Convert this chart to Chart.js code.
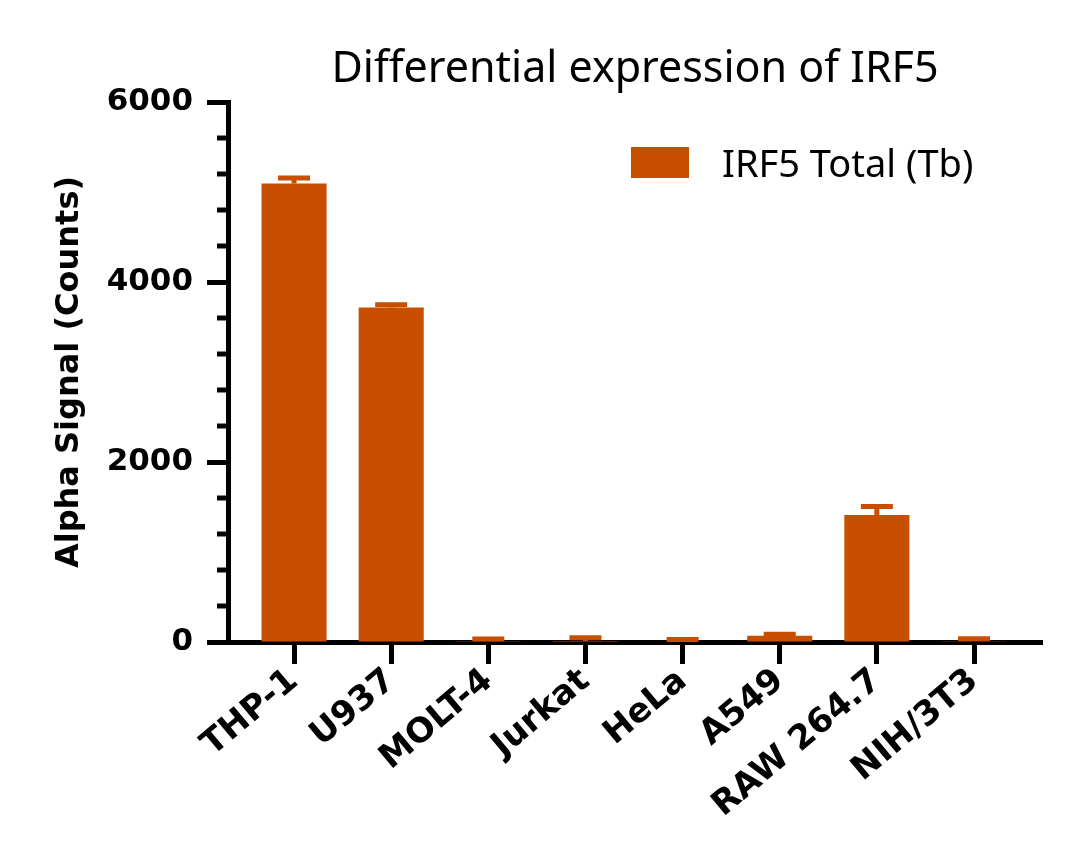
<!DOCTYPE html>
<html>
<head>
<meta charset="utf-8">
<title>Differential expression of IRF5</title>
<script src="https://cdn.jsdelivr.net/npm/chart.js@4/dist/chart.umd.min.js"></script>
<style>
	html, body { margin: 0; padding: 0; background: #fff; }
	#wrap { width: 1080px; height: 866px; position: relative; }
</style>
</head>
<body>
<div id="wrap"><canvas id="myChart"></canvas></div>
<script>
// data
var cellLines = ['THP-1', 'U937', 'MOLT-4', 'Jurkat', 'HeLa', 'A549', 'RAW 264.7', 'NIH/3T3'];
var irf5Total = [5095, 3718, 8, 10, 5, 70, 1410, 8];
var irf5Err = [60, 30, 25, 38, 23, 16, 95, 29];
var yTicks = [0, 2000, 4000, 6000];

var barColor = '#C84E00';
var boldFont = '"DejaVu Sans", sans-serif';
var textFont = '"Noto Sans", Roboto, sans-serif';

// title + legend drawn over the plot area, error bars and minor ticks
var extras = {
	id: 'extras',
	afterDatasetsDraw: function (chart) {
		var ctx = chart.ctx;
		var y = chart.scales.y;
		var meta = chart.getDatasetMeta(0);
		ctx.save();
		ctx.strokeStyle = barColor;
		ctx.lineWidth = 5;
		meta.data.forEach(function (bar, i) {
			var top = y.getPixelForValue(irf5Total[i] + irf5Err[i]);
			ctx.beginPath();
			ctx.moveTo(bar.x, bar.y);
			ctx.lineTo(bar.x, top);
			ctx.moveTo(bar.x - 16, top);
			ctx.lineTo(bar.x + 16, top);
			ctx.stroke();
		});
		ctx.restore();
	},
	afterDraw: function (chart) {
		var ctx = chart.ctx;
		var area = chart.chartArea;
		var y = chart.scales.y;
		ctx.save();
		// minor ticks on y
		ctx.strokeStyle = '#000';
		ctx.lineWidth = 5;
		y.ticks.forEach(function (t) {
			if (yTicks.indexOf(t.value) >= 0) return;
			var py = y.getPixelForValue(t.value);
			ctx.beginPath();
			ctx.moveTo(area.left - 11, py);
			ctx.lineTo(area.left, py);
			ctx.stroke();
		});
		// title
		ctx.fillStyle = '#000';
		ctx.font = '43px ' + textFont;
		ctx.textAlign = 'center';
		ctx.textBaseline = 'alphabetic';
		ctx.fillText('Differential expression of IRF5', (area.left + area.right) / 2, 82);
		// legend
		var ds = chart.data.datasets[0];
		ctx.fillStyle = ds.backgroundColor;
		ctx.fillRect(area.right - 411, area.top + 45, 58, 31);
		ctx.fillStyle = '#000';
		ctx.font = '38px ' + textFont;
		ctx.textAlign = 'left';
		ctx.fillText(ds.label, area.right - 320, area.top + 75);
		ctx.restore();
	}
};

var ctx = document.getElementById('myChart').getContext('2d');
var chart = new Chart(ctx, {
	type: 'bar',
	data: {
		datasets: [
			{
				label: 'IRF5 Total (Tb)',
				backgroundColor: barColor,
				borderWidth: 0,
				barPercentage: 0.67,
				categoryPercentage: 1,
				data: cellLines.map(function (c, i) { return { x: i, y: irf5Total[i] }; })
			}
		]
	},
	options: {
		responsive: true,
		maintainAspectRatio: false,
		animation: false,
		layout: { padding: { top: 102, right: 38, bottom: 0, left: 0 } },
		plugins: {
			legend: { display: false },
			title: { display: false },
			tooltip: { enabled: false }
		},
		scales: {
			x: {
				type: 'linear',
				min: -0.68,
				max: 7.7,
				offset: false,
				afterBuildTicks: function (scale) {
					scale.ticks = cellLines.map(function (c, i) { return { value: i }; });
				},
				afterFit: function (scale) { scale.height = 224; },
				border: { color: '#000', width: 5 },
				grid: { offset: false, drawOnChartArea: false, tickLength: 22, tickWidth: 5, tickColor: '#000' },
				ticks: {
					autoSkip: false,
					maxRotation: 40,
					minRotation: 40,
					padding: -3,
					color: '#000',
					font: { family: boldFont, size: 34, weight: 'bold' },
					callback: function (v) { return cellLines[v]; }
				}
			},
			y: {
				min: 0,
				max: 6000,
				afterFit: function (scale) { scale.width = 228; },
				border: { color: '#000', width: 5 },
				grid: {
					drawOnChartArea: false,
					tickLength: 21,
					tickWidth: 5,
					tickColor: function (c) { return yTicks.indexOf(c.tick.value) >= 0 ? '#000' : 'rgba(0,0,0,0)'; }
				},
				ticks: {
					stepSize: 400,
					autoSkip: false,
					padding: 14,
					color: '#000',
					font: { family: boldFont, size: 31, weight: 'bold' },
					callback: function (v) { return yTicks.indexOf(v) >= 0 ? String(v) : ''; }
				},
				title: {
					display: true,
					text: 'Alpha Signal (Counts)',
					color: '#000',
					padding: { top: 50, bottom: 0 },
					font: { family: boldFont, size: 32, weight: 'bold' }
				}
			}
		}
	},
	plugins: [extras]
});
</script>
</body>
</html>
